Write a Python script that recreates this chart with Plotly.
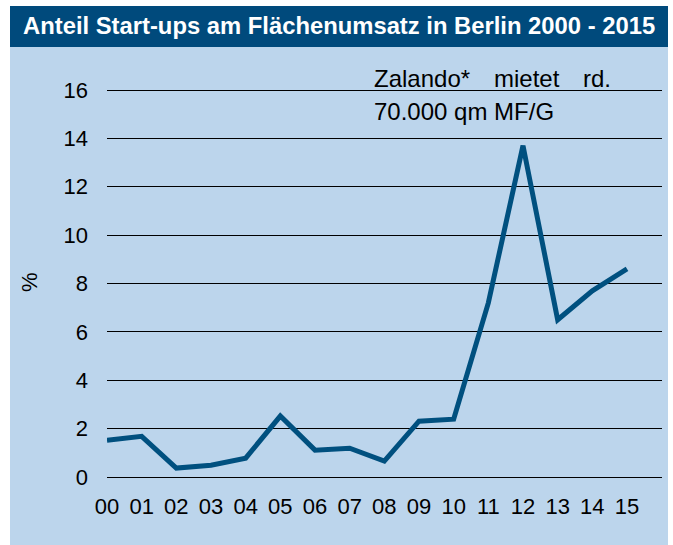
import plotly.graph_objects as go

years = ["00", "01", "02", "03", "04", "05", "06", "07", "08", "09", "10", "11", "12", "13", "14", "15"]
share = [1.52, 1.68, 0.37, 0.49, 0.78, 2.52, 1.11, 1.19, 0.66, 2.31, 2.39, 7.2, 13.7, 6.5, 7.7, 8.6]
y_ticks = [0, 2, 4, 6, 8, 10, 12, 14, 16]

W, H = 673, 545
L, R, T, B = 107, 11, 88, 66
pw, ph = W - L - R, H - T - B
unit = (477 - 90.5) / 16.0          # pixels per percentage point
pad_units = 2.0 / unit

def px(x):
    return (x - L) / pw

def py(y):
    return (H - B - y) / ph

FONT = "Liberation Sans, Arial, sans-serif"
BG = "#BCD5EC"
HEAD = "#004A7C"
LINE = "#00507F"

xs = list(range(len(years)))

fig = go.Figure()
fig.add_trace(go.Scatter(
    x=xs, y=share, mode="lines",
    line=dict(color=LINE, width=5),
    hoverinfo="skip", showlegend=False, cliponaxis=True,
))

shapes = [
    dict(type="rect", xref="paper", yref="paper", x0=px(10), x1=px(668), y0=py(545), y1=py(47),
         fillcolor=BG, line=dict(width=0), layer="below"),
    dict(type="rect", xref="paper", yref="paper", x0=px(10), x1=px(668), y0=py(47), y1=py(6),
         fillcolor=HEAD, line=dict(width=0), layer="below"),
]

annotations = [
    dict(text="<b>Anteil Start-ups am Flächenumsatz in Berlin 2000 - 2015</b>", xref="paper", yref="paper",
         x=px(21), y=py(26), xanchor="left", yanchor="middle", showarrow=False,
         font=dict(family=FONT, size=23.8, color="white")),
    dict(text="%", xref="paper", yref="paper", x=px(29), y=py(282), xanchor="center", yanchor="middle",
         textangle=-90, showarrow=False, font=dict(family=FONT, size=22, color="black")),
    dict(text="Zalando*", xref="paper", yref="paper", x=px(372), y=py(79), xanchor="left", yanchor="middle",
         showarrow=False, font=dict(family=FONT, size=24, color="black")),
    dict(text="mietet", xref="paper", yref="paper", x=px(492), y=py(79), xanchor="left", yanchor="middle",
         showarrow=False, font=dict(family=FONT, size=24, color="black")),
    dict(text="rd.", xref="paper", yref="paper", x=px(581), y=py(79), xanchor="left", yanchor="middle",
         showarrow=False, font=dict(family=FONT, size=24, color="black")),
    dict(text="70.000 qm MF/G", xref="paper", yref="paper", x=px(372), y=py(112), xanchor="left", yanchor="middle",
         showarrow=False, font=dict(family=FONT, size=24, color="black")),
]

fig.update_layout(
    width=W, height=H,
    margin=dict(l=L, r=R, t=T, b=B, pad=0),
    paper_bgcolor="white",
    plot_bgcolor="rgba(0,0,0,0)",
    shapes=shapes,
    annotations=annotations,
    xaxis=dict(
        range=[0, (pw) / ((627 - 107) / 15)],
        tickmode="array", tickvals=xs, ticktext=years,
        showgrid=False, zeroline=False, showline=False, ticks="",
        tickfont=dict(family=FONT, size=22, color="black"),
        ticklabelstandoff=12, fixedrange=True,
    ),
    yaxis=dict(
        range=[-pad_units, 16 + pad_units],
        tickmode="array", tickvals=y_ticks,
        showgrid=True, gridcolor="black", gridwidth=1,
        zeroline=False, showline=False, ticks="",
        tickfont=dict(family=FONT, size=22, color="black"),
        ticklabelstandoff=18, fixedrange=True,
    ),
)

fig.write_html("out.html", config={"displayModeBar": False},
               post_script="document.body.style.margin='0';document.body.style.overflow='hidden';")
